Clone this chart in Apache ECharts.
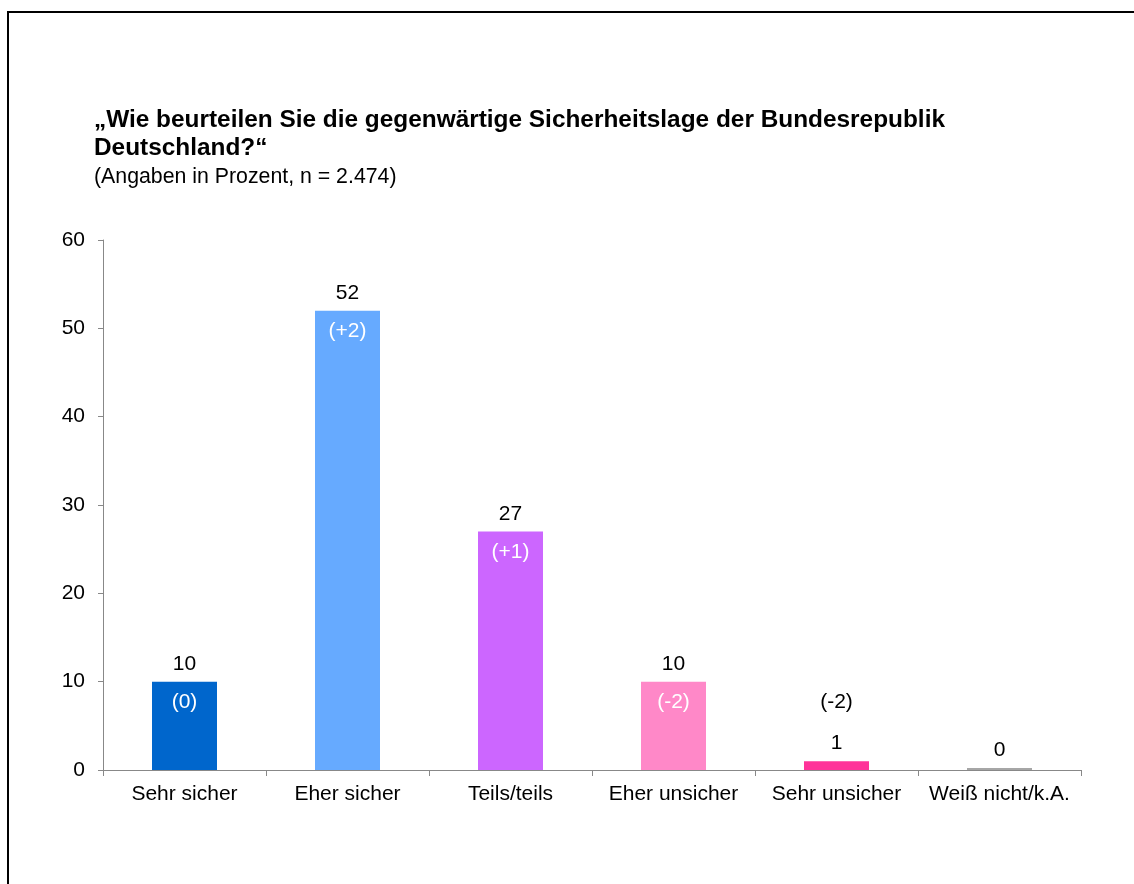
<!DOCTYPE html>
<html>
<head>
<meta charset="utf-8">
<script src="https://cdn.jsdelivr.net/npm/echarts@6/dist/echarts.min.js"></script>
<style>
html,body{margin:0;padding:0;background:#fff;}
#chart{width:1134px;height:884px;}
</style>
</head>
<body>
<div id="chart"></div>
<script>
const categories = ['Sehr sicher', 'Eher sicher', 'Teils/teils', 'Eher unsicher', 'Sehr unsicher', 'Weiß nicht/k.A.'];
const values = [10, 52, 27, 10, 1, 0];
const changes = ['(0)', '(+2)', '(+1)', '(-2)', '(-2)', ''];
const yTicks = [0, 10, 20, 30, 40, 50, 60];
const barColors = ['#0066CC', '#66AAFF', '#CC66FF', '#FF88C8', '#FF3399', '#A6A6A6'];

const FONT = '"Liberation Sans", Arial, sans-serif';
const FS = 21;
const chart = echarts.init(document.getElementById('chart'));

// small bars: change label sits above the value label
const smallLimit = 5;

const mainData = values.map((v, i) => ({
  value: v,
  itemStyle: { color: barColors[i] },
  label: (v < smallLimit && changes[i]) ? {
    formatter: '{c|' + changes[i] + '}\n{v|' + v + '}'
  } : {}
}));

const changeData = values.map((v, i) => ({
  value: v,
  label: { show: v >= smallLimit && !!changes[i], formatter: changes[i] }
}));

chart.setOption({
  backgroundColor: '#ffffff',
  animation: false,
  textStyle: { fontFamily: FONT },
  title: {
    text: '„Wie beurteilen Sie die gegenwärtige Sicherheitslage der Bundesrepublik\nDeutschland?“',
    subtext: '(Angaben in Prozent, n = 2.474)',
    left: 94,
    top: 106,
    itemGap: 3,
    padding: 0,
    textStyle: { fontFamily: FONT, fontSize: 24.4, fontWeight: 'bold', color: '#000', lineHeight: 28 },
    subtextStyle: { fontFamily: FONT, fontSize: 21.3, color: '#000', lineHeight: 24 }
  },
  graphic: [{
    type: 'rect',
    shape: { x: 8, y: 12, width: 1300, height: 1000 },
    style: { fill: 'none', stroke: '#000', lineWidth: 2 },
    silent: true
  }],
  grid: { left: 103, right: 53, top: 240, bottom: 114, containLabel: false },
  xAxis: {
    type: 'category',
    data: categories,
    axisLine: { lineStyle: { color: '#888888', width: 1 } },
    axisTick: { show: true, length: 6, lineStyle: { color: '#888888' } },
    axisLabel: { color: '#000', fontSize: FS, margin: 14, fontFamily: FONT, interval: 0 }
  },
  yAxis: {
    type: 'value',
    min: yTicks[0],
    max: yTicks[yTicks.length - 1],
    interval: 10,
    splitLine: { show: false },
    axisLine: { show: true, lineStyle: { color: '#888888', width: 1 } },
    axisTick: { show: true, length: 5, lineStyle: { color: '#888888' } },
    axisLabel: { color: '#000', fontSize: FS, margin: 18, fontFamily: FONT }
  },
  series: [
    {
      type: 'bar',
      data: mainData,
      barWidth: 65,
      barMinHeight: 2,
      label: {
        show: true,
        position: 'top',
        distance: 7,
        color: '#000',
        fontSize: FS,
        fontFamily: FONT,
        rich: {
          c: { fontSize: FS, color: '#000', lineHeight: 62, fontFamily: FONT },
          v: { fontSize: FS, color: '#000', lineHeight: 21, fontFamily: FONT }
        }
      }
    },
    {
      type: 'bar',
      data: changeData,
      barWidth: 65,
      barGap: '-100%',
      silent: true,
      itemStyle: { color: 'rgba(0,0,0,0)' },
      label: {
        position: 'insideTop',
        distance: 10,
        color: '#ffffff',
        fontSize: FS,
        fontFamily: FONT
      }
    }
  ]
});
</script>
</body>
</html>
